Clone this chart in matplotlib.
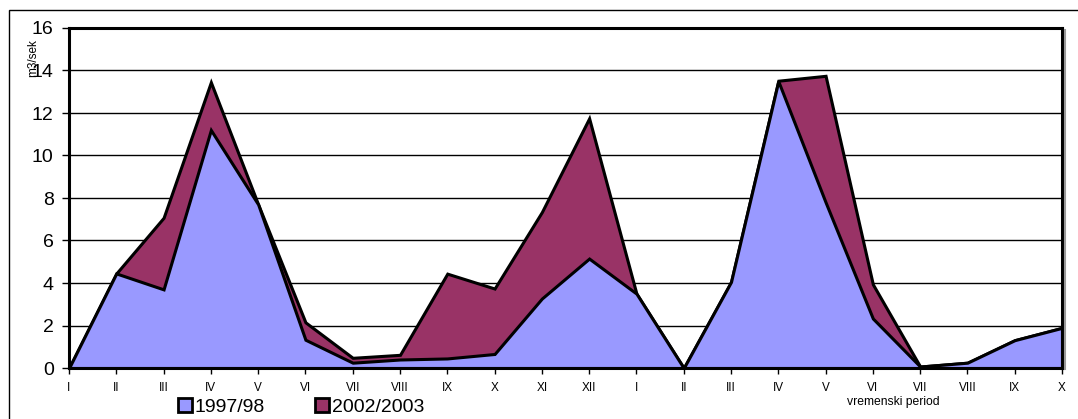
import matplotlib
matplotlib.use("Agg")
import matplotlib.pyplot as plt
from matplotlib.patches import Rectangle
from matplotlib.lines import Line2D

plt.rcParams['font.family'] = ['Liberation Sans', 'DejaVu Sans']

months = ["I", "II", "III", "IV", "V", "VI", "VII", "VIII", "IX", "X", "XI", "XII",
          "I", "II", "III", "IV", "V", "VI", "VII", "VIII", "IX", "X"]
s1997 = [0, 4.45, 3.7, 11.2, 7.7, 1.33, 0.25, 0.4, 0.45, 0.66, 3.27, 5.15,
         3.5, 0, 4.05, 13.5, 7.8, 2.33, 0.07, 0.25, 1.31, 1.89]
s2002 = [0, 4.45, 7.07, 13.45, 7.7, 2.15, 0.48, 0.62, 4.44, 3.74, 7.34, 11.75,
         3.5, 0, 4.05, 13.52, 13.75, 3.94, 0.07, 0.25, 1.31, 1.89]
label1 = "1997/98"
label2 = "2002/2003"
blue = "#9999FF"
maroon = "#993366"

W, H = 1078, 419
fig = plt.figure(figsize=(W / 100, H / 100), dpi=100)

# outer chart border
fig.patches.append(Rectangle((9 / W, -0.05), 1.2, 1 - 10 / H + 0.05, transform=fig.transFigure,
                             fill=False, edgecolor='black', lw=1.0, zorder=0))

x0, x1 = 69 / W, 1062 / W
y0, y1 = 1 - 368 / H, 1 - 28 / H
ax = fig.add_axes([x0, y0, x1 - x0, y1 - y0])

# shadow of plot area
fig.lines.append(Line2D([x1 + 2.5 / W, x1 + 2.5 / W], [y0 - 1 / H, y1 - 2 / H], transform=fig.transFigure,
                        color='#999999', lw=1.5, zorder=0))

x = list(range(len(months)))
ax.fill_between(x, s2002, 0, facecolor=maroon, edgecolor='black', lw=2.2, zorder=2,
                label=label2, joinstyle='miter')
ax.fill_between(x, s1997, 0, facecolor=blue, edgecolor='black', lw=2.2, zorder=3,
                label=label1, joinstyle='miter')

ax.set_xlim(0, len(months) - 1)
ax.set_ylim(0, 16)
ax.set_yticks(range(0, 17, 2))
ax.set_xticks(x)
ax.set_xticklabels(months, fontsize=8.5)
ax.tick_params(axis='y', labelsize=14, length=5, width=1, pad=6)
ax.tick_params(axis='x', length=4, width=1, pad=6)
ax.yaxis.grid(True, color='black', lw=1)
ax.set_axisbelow(True)
for sp in ax.spines.values():
    sp.set_linewidth(2.2)
    sp.set_zorder(5)

fig.text(33 / W, 1 - 58 / H, "m3/sek", rotation=90, fontsize=8.5, ha='center', va='center')
fig.text(893 / W, 1 - 402 / H, "vremenski period", fontsize=8.7, ha='center', va='center')

handles = [Rectangle((0, 0), 1, 1, facecolor=blue, edgecolor='black', lw=2),
           Rectangle((0, 0), 1, 1, facecolor=maroon, edgecolor='black', lw=2)]
fig.legend(handles, [label1, label2], loc='center', bbox_to_anchor=(301 / W, 1 - 407 / H),
           ncol=2, frameon=False, fontsize=14, handlelength=0.72, handleheight=0.72,
           handletextpad=0.12, columnspacing=2.6, borderpad=0)

fig.savefig("out.png", dpi=100)
